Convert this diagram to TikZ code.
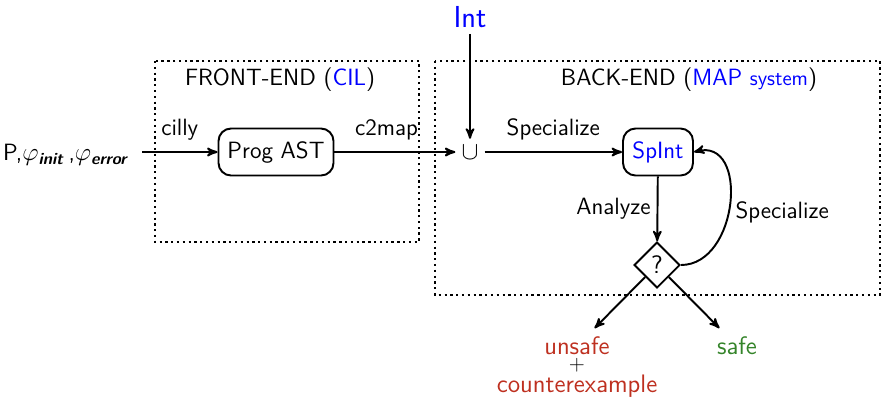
\documentclass[tikz,border=0pt]{standalone}
\usepackage[usenames,dvipsnames]{xcolor}
\usepackage{amsmath,amssymb}
\usetikzlibrary{arrows,shapes.geometric}

\definecolor{failred}{RGB}{190,48,32}
\definecolor{passgreen}{RGB}{52,132,42}

\begin{document}
\begin{tikzpicture}[x=0.02cm,y=-0.02cm,font=\sffamily\fontsize{13.4}{16}\selectfont,
    block/.style={draw,line width=1.1pt,rounded corners=2.5mm,minimum height=0.94cm},
    flow/.style={->,>=stealth',line width=1.1pt},
    stage/.style={dotted,line width=1.3pt},
    verdict/.style={font=\sffamily\Large,inner sep=0pt}]
            \useasboundingbox (0,0) rectangle (881,397);

            % the two stages
            \draw[stage] (155,61) rectangle (419,242);
            \draw[stage] (435,61) rectangle (880,295);
            \node (fe) at (280,80) {FRONT-END (\textcolor{blue}{CIL})};
            \node (be) at (689,80) {BACK-END (\textcolor{blue}{MAP {\large system}})};

            % front-end
            \node (src) at (66,155) {P,$\varphi_{\textbf{\textit{init}}}$\,,$\varphi_{\textbf{\textit{error}}}$};
            \coordinate (srcend) at (142,152);
            \node[block,minimum width=2.3cm] (ast) at (276,152) {Prog AST};
            \node (union) at (470,152) {\Large$\cup$};
            \node[blue,font=\sffamily\LARGE] (int) at (470,17) {Int};

            \draw[flow] (srcend) -- node[above=3pt] {cilly} (ast);
            \draw[flow] (ast) -- node[above=3pt,pos=0.43] {c2map} (union);
            \draw[flow] (int) -- (union);

            % back-end
            \node[block,minimum width=1.4cm] (spint) at (658,152) {\textcolor{blue}{SpInt}};
            \node[draw,diamond,line width=1.1pt,minimum width=0.92cm,minimum height=0.92cm,inner sep=0pt,font=\sffamily\Large] (check) at (657,265) {?};

            \draw[flow] (union) -- node[above=3pt] {Specialize} (spint);
            \draw[flow] (spint) -- node[left] {Analyze} (check);
            \draw[flow] (check.east) to[out=0,in=15,looseness=1.3] node[right,pos=0.45] {Specialize} (spint.east);

            % outcomes
            \node[verdict,failred,outer sep=5pt] (unsafe) at (577,346) {unsafe};
            \node[verdict,font=\large] (plus) at (577,365.5) {$+$};
            \node[verdict,failred,anchor=base] (cex) at (577,392.5) {counterexample};
            \node[verdict,passgreen,outer sep=5pt] (safe) at (737,346) {safe};

            \draw[flow] (check) -- (unsafe);
            \draw[flow] (check) -- (safe);
\end{tikzpicture}
\end{document}
